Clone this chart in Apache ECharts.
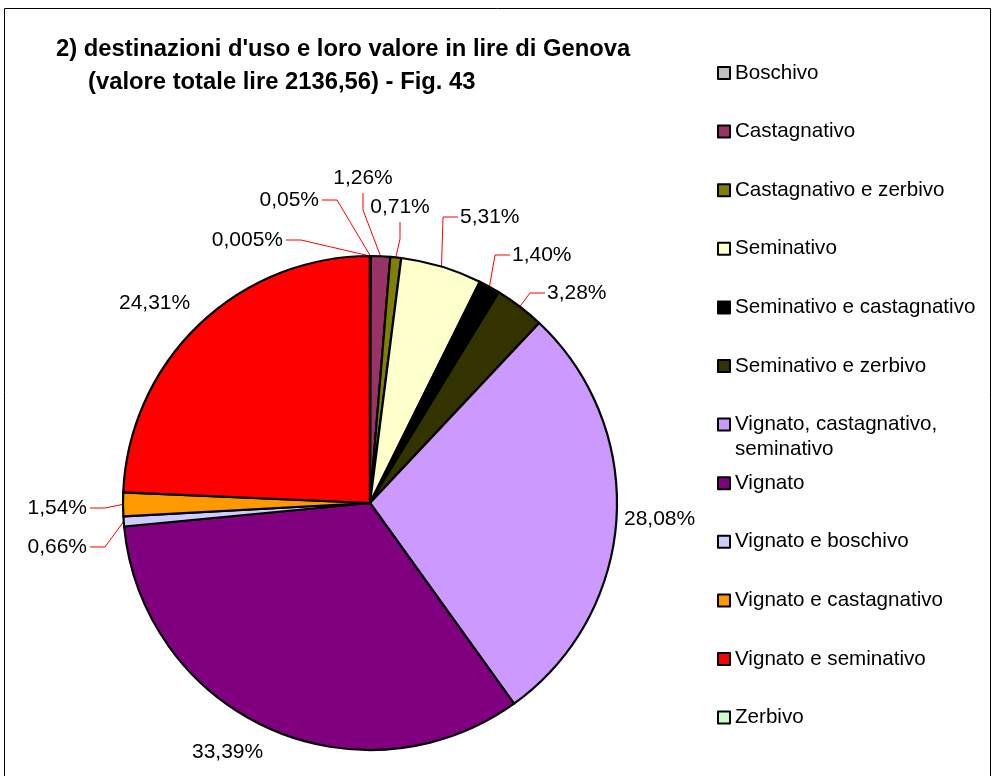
<!DOCTYPE html>
<html><head><meta charset="utf-8">
<script src="https://cdn.jsdelivr.net/npm/echarts@6/dist/echarts.min.js"></script>
<style>html,body{margin:0;padding:0;background:#fff}#c{width:994px;height:776px}</style>
</head><body><div id="c"></div>
<script>
const categories = ['Boschivo','Castagnativo','Castagnativo e zerbivo','Seminativo','Seminativo e castagnativo','Seminativo e zerbivo','Vignato, castagnativo, seminativo','Vignato','Vignato e boschivo','Vignato e castagnativo','Vignato e seminativo','Zerbivo'];
const values = [0.05, 1.26, 0.71, 5.31, 1.40, 3.28, 28.08, 33.39, 0.66, 1.54, 24.31, 0.005];
const colors = ['#C0C0C0','#993366','#808000','#FFFFCC','#000000','#333300','#CC99FF','#800080','#CCCCFF','#FF9900','#FF0000','#CCFFCC'];
const titleLines = ["2) destinazioni d'uso e loro valore in lire di Genova", "(valore totale lire 2136,56) - Fig. 43"];

// label placement (layout only): [x, y, align, leader line?]
const labelPlace = [
  [319, 200, 'right', true],
  [363, 178, 'center', true],
  [400, 207, 'center', true],
  [460, 217, 'left', true],
  [512, 255, 'left', true],
  [547, 293, 'left', true],
  [624, 519, 'left', false],
  [192, 752, 'left', false],
  [87, 547, 'right', true],
  [87, 508, 'right', true],
  [119, 303, 'left', false],
  [283, 240, 'right', true]
];

const FONT = '"Liberation Sans", Arial, sans-serif';
function fmt(v){ return (v < 0.01 ? v.toFixed(3) : v.toFixed(2)).replace('.', ',') + '%'; }

const chart = echarts.init(document.getElementById('c'), null, {renderer:'canvas'});

const legends = categories.map((name, i) => {
  const cy = 73 + i * 58.6;
  const multi = name.length > 25 && name.indexOf(', ') > 0;
  return {
    data: [name],
    left: 717,
    top: multi ? cy - 37.5 : cy - 12.5,
    orient: 'vertical',
    icon: 'rect',
    itemWidth: 12, itemHeight: 12, itemGap: 5,
    padding: 0,
    selectedMode: false,
    itemStyle: {borderColor:'#000', borderWidth:2},
    formatter: multi ? ' \nVignato, castagnativo,\nseminativo' : '{name}',
    textStyle: {fontFamily: FONT, fontSize: 20.6, color:'#000', lineHeight: 25}
  };
});

chart.setOption({
  animation: false,
  backgroundColor: '#fff',
  color: colors,
  title: [
    {text: titleLines[0], left: 51, top: 32, textStyle:{fontFamily: FONT, fontWeight:'bold', fontSize: 23.8, color:'#000'}},
    {text: titleLines[1], left: 83, top: 65, textStyle:{fontFamily: FONT, fontWeight:'bold', fontSize: 23.8, color:'#000'}}
  ],
  legend: legends,
  graphic: [{type:'rect', shape:{x:4.5, y:8.5, width:986, height:800}, style:{fill:'none', stroke:'#000', lineWidth:1}, silent:true}],
  series: [{
    type: 'pie',
    center: [370, 503],
    radius: 247,
    startAngle: 90,
    clockwise: true,
    avoidLabelOverlap: false,
    itemStyle: {borderColor:'#000', borderWidth: 2.2},
    emphasis: {disabled: true},
    label: {show:true, position:'outside', fontFamily: FONT, fontSize: 21, color:'#000', formatter: p => fmt(p.value)},
    labelLine: {show:true, length: 12, length2: 20, lineStyle:{color:'#FF0000', width:1}},
    labelLayout: function (params) {
      const lp = labelPlace[params.dataIndex];
      const [x, y, align, hasLine] = lp;
      const out = {x: x, y: y, align: align, verticalAlign: 'middle', hideOverlap: false, moveOverlap: null};
      if (hasLine && params.labelLinePoints) {
        const anchor = params.labelLinePoints[0];
        let s, e;
        if (align === 'right') { s = [x + 3, y]; e = [x + 18, y]; }
        else if (align === 'left') { s = [x - 2, y]; e = [x - 17, y]; }
        else { s = [x, y + 15]; e = [x, y + 32]; }
        out.labelLinePoints = [anchor, e, s];
      }
      return out;
    },
    data: categories.map((n, i) => ({
      name: n, value: values[i],
      labelLine: {show: labelPlace[i][3]}
    }))
  }]
});
</script></body></html>
